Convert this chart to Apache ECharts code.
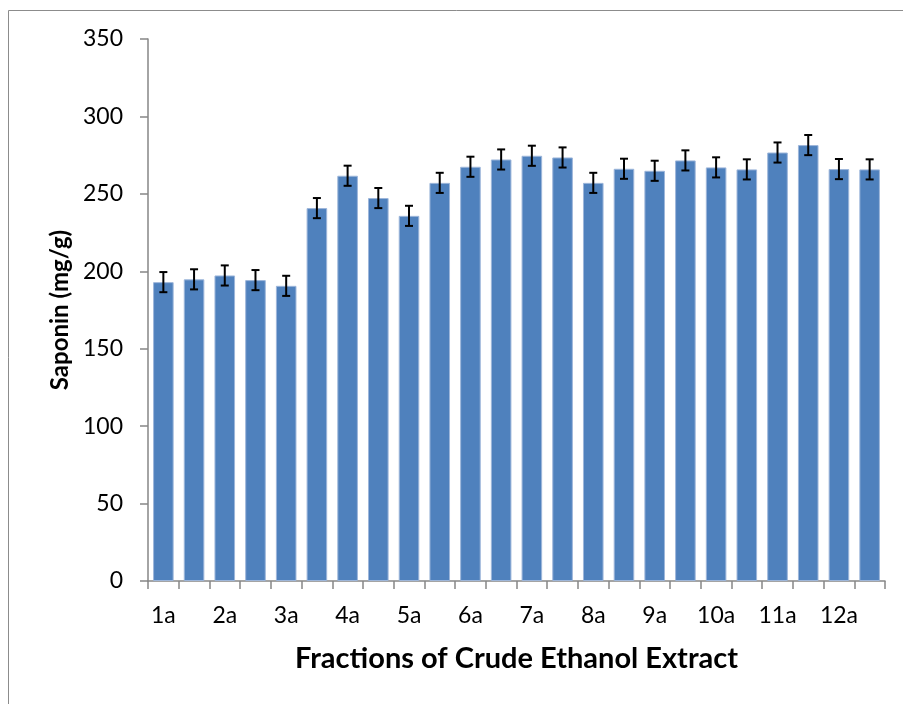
<!DOCTYPE html>
<html style="height: 100%">
<head>
	<meta charset="utf-8">
</head>
<body style="height: 100%; margin: 0; background: #fff">
<div id="container" style="width: 903px; height: 704px"></div>
<script type="text/javascript" src="https://cdn.jsdelivr.net/npm/echarts@6/dist/echarts.min.js"></script>
<script type="text/javascript">
    var dom = document.getElementById("container");
    var myChart = echarts.init(dom);

    // fractions (only every other one is labelled on the axis)
    var categories = ['1a', '1b', '2a', '2b', '3a', '3b', '4a', '4b', '5a', '5b', '6a', '6b',
        '7a', '7b', '8a', '8b', '9a', '9b', '10a', '10b', '11a', '11b', '12a', '12b'];
    var saponin = [193, 194.8, 197.3, 194.3, 190.6, 240.8, 261.7, 247.3, 235.8, 257.1, 267.5, 272.2,
        274.6, 273.5, 257.1, 266.2, 264.9, 271.6, 267.1, 265.8, 276.7, 281.5, 266, 265.8];
    var errors = [6.5, 6.5, 6.5, 6.5, 6.5, 6.5, 6.5, 6.5, 6.5, 6.5, 6.5, 6.5,
        6.5, 6.5, 6.5, 6.5, 6.5, 6.5, 6.5, 6.5, 6.5, 6.5, 6.5, 6.5];
    var yTicks = [0, 50, 100, 150, 200, 250, 300, 350];

    var font = 'Lato, "Open Sans", sans-serif';
    var axisGray = '#868686';

    var errData = saponin.map(function (v, i) {
        return [i, v - errors[i], v + errors[i]];
    });

    var option = {
        backgroundColor: '#fff',
        animation: false,
        graphic: [{
            type: 'rect',
            shape: { x: 8.5, y: 10.5, width: 1000, height: 1000 },
            style: { fill: 'none', stroke: '#8c8c8c', lineWidth: 1 },
            silent: true
        }],
        grid: {
            left: 148,
            right: 18,
            top: 39,
            bottom: 123
        },
        xAxis: {
            type: 'category',
            data: categories,
            name: 'Fractions of Crude Ethanol Extract',
            nameLocation: 'middle',
            nameGap: 63,
            nameTextStyle: { fontFamily: font, fontSize: 29, fontWeight: 'bold', color: '#000' },
            axisLine: { lineStyle: { color: axisGray, width: 1.5 } },
            axisTick: { show: true, interval: 0, length: 8, lineStyle: { color: axisGray, width: 1.5 } },
            axisLabel: { interval: 1, margin: 23, fontFamily: font, fontSize: 23, color: '#000' }
        },
        yAxis: {
            type: 'value',
            min: yTicks[0],
            max: yTicks[yTicks.length - 1],
            interval: yTicks[1] - yTicks[0],
            name: 'Saponin (mg/g)',
            nameLocation: 'middle',
            nameGap: 76,
            nameTextStyle: { fontFamily: font, fontSize: 24, fontWeight: 'bold', color: '#000' },
            splitLine: { show: false },
            axisLine: { show: true, lineStyle: { color: axisGray, width: 1.5 } },
            axisTick: { show: true, length: 8, lineStyle: { color: axisGray, width: 1.5 } },
            axisLabel: { margin: 25, fontFamily: font, fontSize: 23, color: '#000' }
        },
        series: [{
            type: 'bar',
            data: saponin,
            barCategoryGap: '33%',
            itemStyle: {
                color: '#4F81BD',
                borderColor: '#9db6da',
                borderWidth: 1
            }
        }, {
            type: 'custom',
            data: errData,
            z: 10,
            renderItem: function (params, api) {
                var x = api.value(0);
                var lo = api.coord([x, api.value(1)]);
                var hi = api.coord([x, api.value(2)]);
                var half = 4;
                var st = { stroke: '#000', lineWidth: 2 };
                return {
                    type: 'group',
                    children: [
                        { type: 'line', shape: { x1: lo[0], y1: lo[1], x2: hi[0], y2: hi[1] }, style: st },
                        { type: 'line', shape: { x1: lo[0] - half, y1: lo[1], x2: lo[0] + half, y2: lo[1] }, style: st },
                        { type: 'line', shape: { x1: hi[0] - half, y1: hi[1], x2: hi[0] + half, y2: hi[1] }, style: st }
                    ]
                };
            }
        }]
    };

    myChart.setOption(option, true);
</script>
</body>
</html>
